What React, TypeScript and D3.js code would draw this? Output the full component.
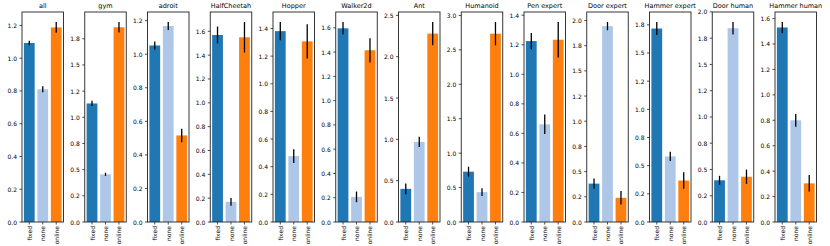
import * as d3 from 'd3';

const titles = ['all', 'gym', 'adroit', 'HalfCheetah', 'Hopper', 'Walker2d', 'Ant', 'Humanoid', 'Pen expert', 'Door expert', 'Hammer expert', 'Door human', 'Hammer human'];
const categories = ['fixed', 'none', 'online'];
const colors = ['#1f77b4', '#aec7e8', '#ff7f0e'];

const fixedMean = [1.093, 1.132, 1.052, 1.569, 1.381, 1.596, 0.401, 0.731, 1.225, 0.381, 1.717, 0.397, 1.53];
const fixedErr = [0.014, 0.025, 0.024, 0.071, 0.066, 0.052, 0.066, 0.072, 0.055, 0.051, 0.058, 0.043, 0.043];
const noneMean = [0.81, 0.455, 1.168, 0.169, 0.477, 0.207, 0.969, 0.434, 0.661, 1.944, 0.582, 1.845, 0.8];
const noneErr = [0.018, 0.015, 0.024, 0.032, 0.05, 0.044, 0.063, 0.058, 0.066, 0.041, 0.041, 0.059, 0.05];
const onlineMean = [1.188, 1.86, 0.516, 1.55, 1.307, 1.415, 2.28, 2.735, 1.234, 0.24, 0.368, 0.431, 0.304];
const onlineErr = [0.033, 0.05, 0.04, 0.128, 0.124, 0.1, 0.14, 0.17, 0.12, 0.067, 0.074, 0.068, 0.065];

const tickSteps = [0.2, 0.25, 0.2, 0.2, 0.2, 0.2, 0.5, 0.5, 0.2, 0.25, 0.25, 0.25, 0.2];
const tickLabels = [
  ['0.0', '0.2', '0.4', '0.6', '0.8', '1.0', '1.2'],
  ['0.0', '0.2', '0.5', '0.8', '1.0', '1.2', '1.5', '1.8'],
  ['0.0', '0.2', '0.4', '0.6', '0.8', '1.0', '1.2'],
  ['0.0', '0.2', '0.4', '0.6', '0.8', '1.0', '1.2', '1.4', '1.6'],
  ['0.0', '0.2', '0.4', '0.6', '0.8', '1.0', '1.2', '1.4'],
  ['0.0', '0.2', '0.4', '0.6', '0.8', '1.0', '1.2', '1.4', '1.6'],
  ['0.0', '0.5', '1.0', '1.5', '2.0', '2.5'],
  ['0.0', '0.5', '1.0', '1.5', '2.0', '2.5', '3.0'],
  ['0.0', '0.2', '0.4', '0.6', '0.8', '1.0', '1.2', '1.4'],
  ['0.0', '0.2', '0.5', '0.8', '1.0', '1.2', '1.5', '1.8', '2.0'],
  ['0.0', '0.2', '0.5', '0.8', '1.0', '1.2', '1.5', '1.8'],
  ['0.0', '0.2', '0.5', '0.8', '1.0', '1.2', '1.5', '1.8', '2.0'],
  ['0.0', '0.2', '0.4', '0.6', '0.8', '1.0', '1.2', '1.4', '1.6'],
];

const W = 830;
const H = 246;
const axLeft0 = 22;
const axStep = 62.75;
const axW = 41.5;
const axTop = 12;
const axBottom = 222;
const font = 'DejaVu Sans, sans-serif';

function Panel({ idx }: { idx: number }) {
  const left = axLeft0 + idx * axStep;
  const means = [fixedMean[idx], noneMean[idx], onlineMean[idx]];
  const errs = [fixedErr[idx], noneErr[idx], onlineErr[idx]];
  const top = d3.max(means.map((m, i) => m + errs[i])) as number;

  const x = d3.scaleLinear().domain([-0.54, 2.54]).range([left, left + axW]);
  const y = d3.scaleLinear().domain([0, top * 1.05]).range([axBottom, axTop]);
  const bw = x(0.8) - x(0);

  return (
    <g>
      {means.map((m, i) => (
        <rect key={i} x={x(i - 0.4)} y={y(m)} width={bw} height={y(0) - y(m)} fill={colors[i]} />
      ))}
      {means.map((m, i) => (
        <line key={'e' + i} x1={x(i)} x2={x(i)} y1={y(m + errs[i])} y2={y(m - errs[i])} stroke="#000" strokeWidth={1.3} />
      ))}
      <rect x={left} y={axTop} width={axW} height={axBottom - axTop} fill="none" stroke="#222" strokeWidth={0.9} />
      <text x={left + axW / 2} y={7.6} textAnchor="middle" fontSize={6.5} fontFamily={font}>{titles[idx]}</text>
      {tickLabels[idx].map((lab, k) => {
        const ty = y(k * tickSteps[idx]);
        return (
          <g key={'t' + k}>
            <line x1={left - 2.5} x2={left} y1={ty} y2={ty} stroke="#222" strokeWidth={0.8} />
            <text x={left - 5} y={ty} textAnchor="end" dominantBaseline="central" fontSize={6} fontFamily={font}>{lab}</text>
          </g>
        );
      })}
      {categories.map((c, i) => (
        <g key={'x' + i}>
          <line x1={x(i)} x2={x(i)} y1={axBottom} y2={axBottom + 2.5} stroke="#222" strokeWidth={0.8} />
          <text
            transform={`translate(${x(i)},${axBottom + 4}) rotate(-90)`}
            textAnchor="end"
            dominantBaseline="central"
            fontSize={6}
            fontFamily={font}
          >
            {c}
          </text>
        </g>
      ))}
    </g>
  );
}

export default function App() {
  return (
    <svg width={W} height={H} style={{ position: 'absolute', left: 0, top: 0, background: '#fff' }}>
      {titles.map((_, i) => (
        <Panel key={i} idx={i} />
      ))}
    </svg>
  );
}
